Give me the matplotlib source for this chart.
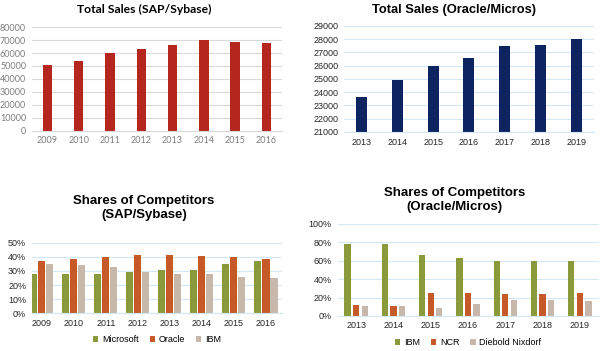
import matplotlib.pyplot as plt
import numpy as np
from matplotlib.ticker import PercentFormatter

# data
sap_years = ["2009", "2010", "2011", "2012", "2013", "2014", "2015", "2016"]
sap_sales = [50800, 53800, 59800, 63300, 66000, 70000, 68200, 67700]

ora_years = ["2013", "2014", "2015", "2016", "2017", "2018", "2019"]
ora_sales = [23650, 24900, 25950, 26550, 27480, 27600, 27980]

sap_comp_names = ["Microsoft", "Oracle", "IBM"]
sap_microsoft = [28, 28, 28, 29.5, 31, 31, 35, 37]
sap_oracle = [37, 38.5, 40, 41.5, 41.5, 41, 40, 38.5]
sap_ibm = [35, 34, 32.5, 29.5, 28, 28, 25.5, 25]

ora_comp_names = ["IBM", "NCR", "Diebold Nixdorf"]
ora_ibm = [78, 78.5, 66, 63, 60, 60, 60]
ora_ncr = [11.5, 11, 24.5, 25, 24, 23.5, 25]
ora_diebold = [11, 11, 9, 12.5, 17, 17, 16]

RED = "#B5261E"
NAVY = "#0D2460"
OLIVE = "#8A9A3B"
ORANGE = "#C55A28"
TAN = "#C8B8AC"
GRID_GRAY = "#D9D9D9"
GRID_BLUE = "#D3E8F3"

plt.rcParams['font.family'] = ['Liberation Sans', 'DejaVu Sans']

fig = plt.figure(figsize=(6, 3.51), dpi=100)


def style(ax, grid_color, tick_color, fs=6.5):
    for s in ax.spines.values():
        s.set_visible(False)
    ax.spines['bottom'].set_visible(True)
    ax.spines['bottom'].set_color(grid_color)
    ax.yaxis.grid(True, color=grid_color, linewidth=0.8)
    ax.set_axisbelow(True)
    ax.tick_params(length=0, labelsize=fs, colors=tick_color, pad=4)


# top left
ax1 = fig.add_axes([0.053, 0.627, 0.417, 0.296])
x = np.arange(len(sap_years))
ax1.bar(x, sap_sales, width=0.3, color=RED)
ax1.set_ylim(0, 80000)
ax1.set_yticks(range(0, 80001, 10000))
ax1.set_xticks(x, sap_years)
ax1.set_xlim(-0.5, len(x) - 0.5)
style(ax1, GRID_GRAY, "#7F7F7F")
for lbl in ax1.get_xticklabels() + ax1.get_yticklabels():
    lbl.set_family(['Lato', 'DejaVu Sans'])
fig.text(0.241, 0.972, "Total Sales (SAP/Sybase)", ha="center", va="center",
         fontsize=8.7, fontweight="bold", family=['Lato', 'DejaVu Sans'])

# top right
ax2 = fig.add_axes([0.573, 0.624, 0.417, 0.302])
x = np.arange(len(ora_years))
ax2.bar(x, ora_sales, width=0.31, color=NAVY)
ax2.set_ylim(21000, 29000)
ax2.set_yticks(range(21000, 29001, 1000))
ax2.set_xticks(x, ora_years)
ax2.set_xlim(-0.5, len(x) - 0.5)
style(ax2, GRID_BLUE, "#262626")
fig.text(0.757, 0.972, "Total Sales (Oracle/Micros)", ha="center", va="center",
         fontsize=9.3, fontweight="bold")

# bottom left
ax3 = fig.add_axes([0.053, 0.108, 0.417, 0.2])
x = np.arange(len(sap_years))
w = 0.22
for i, (vals, c) in enumerate(zip([sap_microsoft, sap_oracle, sap_ibm], [OLIVE, ORANGE, TAN])):
    ax3.bar(x + (i - 1) * (w + 0.03), vals, width=w, color=c, label=sap_comp_names[i])
ax3.set_ylim(0, 50)
ax3.set_yticks(range(0, 51, 10))
ax3.yaxis.set_major_formatter(PercentFormatter(decimals=0))
ax3.set_xticks(x, sap_years)
ax3.set_xlim(-0.31, len(x) - 0.5)
style(ax3, GRID_BLUE, "#262626")
ax3.legend(loc="center", bbox_to_anchor=(0.5, -0.38), ncol=3, frameon=False,
           fontsize=6.5, handlelength=0.6, handleheight=0.6, columnspacing=1.2,
           handletextpad=0.4)
fig.text(0.24, 0.407, "Shares of Competitors\n(SAP/Sybase)", ha="center", va="center",
         fontsize=9.5, fontweight="bold", linespacing=1.15)

# bottom right
ax4 = fig.add_axes([0.5625, 0.1, 0.435, 0.262])
x = np.arange(len(ora_years))
w = 0.17
for i, (vals, c) in enumerate(zip([ora_ibm, ora_ncr, ora_diebold], [OLIVE, ORANGE, TAN])):
    ax4.bar(x + (i - 1) * (w + 0.06), vals, width=w, color=c, label=ora_comp_names[i])
ax4.set_ylim(0, 100)
ax4.set_yticks(range(0, 101, 20))
ax4.yaxis.set_major_formatter(PercentFormatter(decimals=0))
ax4.set_xticks(x, ora_years)
ax4.set_xlim(-0.5, len(x) - 0.5)
style(ax4, GRID_BLUE, "#262626")
ax4.legend(loc="center", bbox_to_anchor=(0.5, -0.29), ncol=3, frameon=False,
           fontsize=6.5, handlelength=0.6, handleheight=0.6, columnspacing=1.2,
           handletextpad=0.4)
fig.text(0.757, 0.43, "Shares of Competitors\n(Oracle/Micros)", ha="center", va="center",
         fontsize=9.5, fontweight="bold", linespacing=1.15)

fig.savefig("out.png", dpi=100)
